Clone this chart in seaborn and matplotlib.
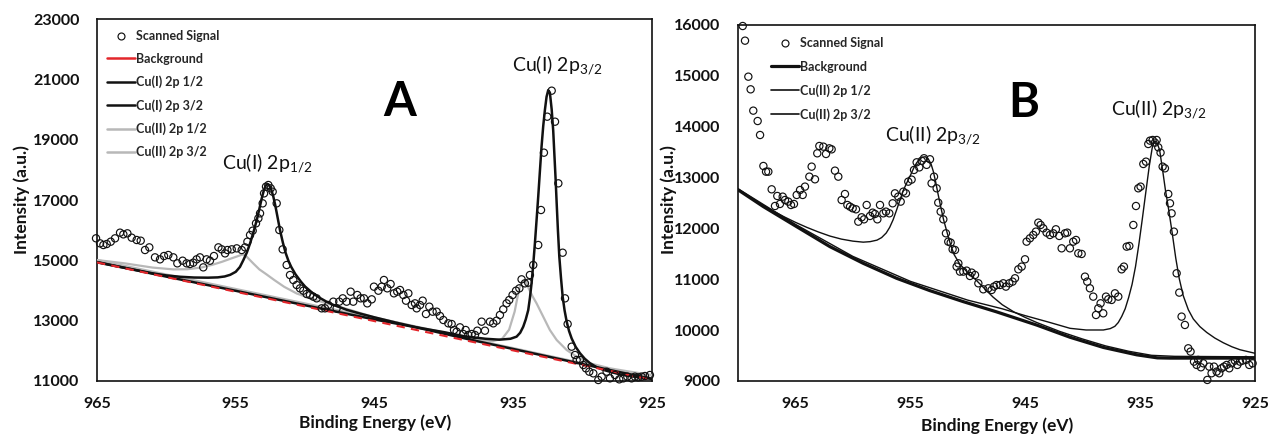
import matplotlib
matplotlib.use("Agg")
import matplotlib.pyplot as plt
from matplotlib.lines import Line2D
from matplotlib.font_manager import FontProperties
import seaborn as sns

# ---------------- Panel A data (Cu(I)) ----------------
a_sig_e = [965.07, 964.78, 964.54, 964.30, 964.01, 963.70, 963.34, 963.10, 962.81, 962.50,
           962.14, 961.85, 961.54, 961.23, 960.82, 960.46, 960.17, 959.86, 959.50, 959.21,
           958.83, 958.54, 958.30, 958.06, 957.82, 957.58, 957.34, 957.10, 956.86, 956.57,
           956.25, 956.01, 955.77, 955.60, 955.29, 954.93, 954.57, 954.33, 954.16, 953.97,
           953.78, 953.54, 953.37, 953.25, 953.06, 952.96, 952.82, 952.65, 952.48, 952.34,
           952.05, 951.86, 951.62, 951.33, 951.09, 950.85, 950.61, 950.37, 950.13, 949.89,
           949.65, 949.41, 949.17, 948.81, 948.57, 948.33, 947.97, 947.73, 947.54, 947.29,
           947.01, 946.72, 946.53, 946.24, 946.00, 945.76, 945.52, 945.20, 945.04, 944.72,
           944.48, 944.32, 944.08, 943.84, 943.60, 943.36, 943.16, 942.92, 942.73, 942.56,
           942.32, 942.08, 941.96, 941.72, 941.53, 941.29, 941.05, 940.81, 940.52, 940.28,
           940.04, 939.68, 939.44, 939.27, 939.08, 938.84, 938.60, 938.43, 938.24, 937.99,
           937.76, 937.59, 937.28, 937.04, 936.68, 936.44, 936.20, 935.96, 935.72, 935.48,
           935.29, 935.05, 934.80, 934.56, 934.40, 934.16, 933.92, 933.80, 933.56, 933.20,
           933.00, 932.79, 932.55, 932.23, 931.99, 931.75, 931.44, 931.27, 931.08, 930.79,
           930.55, 930.43, 930.19, 929.95, 929.76, 929.52, 929.23, 928.87, 928.63, 928.27,
           928.03, 927.67, 927.36, 927.07, 926.78, 926.47, 926.23, 925.99, 925.75, 925.51,
           925.15]
a_sig_i = [15730, 15563, 15508, 15541, 15618, 15729, 15917, 15861, 15895, 15751,
           15674, 15651, 15342, 15430, 15099, 15033, 15143, 15176, 15099, 14900,
           14988, 14900, 14878, 14922, 15033, 15099, 14767, 15033, 14988, 15143,
           15430, 15364, 15231, 15342, 15364, 15397, 15342, 15430, 15618, 15839,
           15983, 16226, 16392, 16558, 16889, 17220, 17442, 17497, 17386, 17276,
           16889, 16005, 15364, 14845, 14513, 14347, 14182, 14071, 13994, 13883,
           13850, 13795, 13740, 13409, 13409, 13519, 13630, 13409, 13630, 13740,
           13630, 13961, 13630, 13851, 13740, 13740, 13574, 13707, 14127, 13994,
           14127, 14348, 14072, 14215, 13906, 13961, 14017, 13851, 13663, 13906,
           13519, 13574, 13409, 13519, 13663, 13221, 13464, 13298, 13298, 13155,
           13022, 12912, 12889, 12691, 12635, 12779, 12558, 12691, 12525, 12558,
           12525, 12668, 12967, 12668, 12966, 12911, 12999, 13187, 13375, 13574,
           13685, 13850, 13994, 14071, 14370, 14237, 14259, 14513, 14845, 15508,
           16668, 18569, 19762, 20624, 19596, 17552, 15253, 13740, 12889, 12138,
           11861, 11696, 11696, 11530, 11419, 11309, 11254, 11033, 11143, 11309,
           11088, 11198, 11055, 11088, 11143, 11088, 11143, 11121, 11143, 11165,
           11198]

a_bg_e = [965.0, 945.0, 925.0]
a_bg_i = [14930, 12985, 11040]

a_cu1_p12_e = [965.0, 964.0, 963.0, 962.0, 961.0, 960.0, 959.0, 958.0, 957.0, 956.3,
               955.8, 955.4, 955.0, 954.7, 954.45, 954.2, 953.97, 953.73, 953.49, 953.3,
               953.13, 952.98, 952.85, 952.72, 952.6, 952.45, 952.29, 952.15, 952.0, 951.81,
               951.6, 951.4, 951.2, 951.0, 950.7, 950.3, 950.0, 949.5, 949.0, 948.5,
               948.0, 947.0, 946.0, 945.0, 943.5, 942.0, 940.0, 938.0, 936.0, 934.0,
               932.0, 930.0, 927.5, 925.0]
a_cu1_p12_i = [14935, 14840, 14750, 14660, 14570, 14500, 14455, 14430, 14425, 14435,
               14465, 14520, 14620, 14780, 15010, 15260, 15560, 15920, 16330, 16700,
               17050, 17310, 17470, 17530, 17500, 17360, 17110, 16820, 16460, 16000,
               15580, 15240, 14980, 14780, 14540, 14290, 14130, 13930, 13770, 13640,
               13530, 13360, 13230, 13110, 12940, 12780, 12570, 12360, 12160, 11960,
               11760, 11560, 11310, 11070]

a_cu1_p32_e = [965.0, 960.0, 955.0, 950.0, 945.0, 942.0, 940.0, 938.5, 937.0, 936.0,
               935.2, 934.76, 934.5, 934.28, 934.1, 933.92, 933.8, 933.68, 933.56, 933.44,
               933.32, 933.2, 933.08, 932.96, 932.84, 932.72, 932.6, 932.48, 932.36, 932.23,
               932.12, 932.04, 931.95, 931.87, 931.78, 931.68, 931.56, 931.44, 931.3, 931.15,
               930.98, 930.79, 930.5, 930.19, 929.85, 929.47, 929.0, 928.51, 927.9, 927.31,
               926.7, 926.11, 925.0]
a_cu1_p32_i = [14945, 14460, 13990, 13510, 13040, 12780, 12620, 12480, 12400, 12370,
               12400, 12470, 12600, 12800, 13040, 13350, 13750, 14240, 14860, 15560,
               16330, 17110, 17950, 18770, 19450, 19980, 20420, 20640, 20560, 20000,
               19300, 18550, 17720, 16890, 15990, 15120, 14420, 13800, 13340, 12970,
               12660, 12410, 12130, 11920, 11740, 11590, 11460, 11370, 11290, 11220,
               11170, 11130, 11075]

a_cu2_p12_e = [965.0, 963.0, 961.0, 959.5, 958.5, 957.5, 956.7, 956.0, 955.4, 954.9,
               954.6, 954.45, 954.25, 954.0, 953.7, 953.3, 952.8, 952.2, 951.5, 950.6,
               949.6, 948.5, 947.0, 945.0, 942.0, 938.0, 934.0, 930.0, 925.0]
a_cu2_p12_i = [15010, 14900, 14760, 14700, 14705, 14760, 14850, 14950, 15050, 15130,
               15180, 15190, 15140, 15020, 14880, 14700, 14540, 14340, 14120, 13900,
               13740, 13580, 13390, 13110, 12800, 12390, 11990, 11590, 11100]

a_cu2_p32_e = [965.0, 960.0, 955.0, 950.0, 945.0, 940.0, 937.5, 936.5, 935.8, 935.3,
               934.9, 934.6, 934.4, 934.1, 933.92, 933.6, 933.32, 932.84, 932.36, 931.87,
               931.15, 930.43, 929.47, 928.03, 926.59, 925.0]
a_cu2_p32_i = [15010, 14530, 14050, 13570, 13090, 12610, 12380, 12320, 12400, 12700,
               13300, 14000, 14280, 14330, 14100, 13800, 13574, 13132, 12690, 12359,
               12027, 11806, 11585, 11419, 11309, 11198]

# ---------------- Panel B data (Cu(II)) ----------------
b_sig_e = [969.59, 969.39, 969.10, 968.90, 968.67, 968.29, 968.08, 967.79, 967.56, 967.36,
           967.07, 966.78, 966.58, 966.35, 966.11, 965.91, 965.62, 965.39, 965.13, 964.89,
           964.60, 964.37, 964.17, 963.79, 963.59, 963.30, 963.10, 962.92, 962.57, 962.34,
           962.05, 961.85, 961.56, 961.27, 960.98, 960.69, 960.48, 960.25, 960.02, 959.73,
           959.53, 959.24, 959.03, 958.80, 958.51, 958.28, 958.08, 957.87, 957.64, 957.35,
           957.12, 956.83, 956.54, 956.34, 956.05, 955.84, 955.61, 955.38, 955.18, 954.89,
           954.68, 954.45, 954.22, 954.01, 953.81, 953.58, 953.29, 953.15, 952.94, 952.71,
           952.57, 952.36, 952.13, 951.90, 951.70, 951.49, 951.32, 951.11, 950.97, 950.82,
           950.68, 950.39, 950.10, 949.81, 949.66, 949.37, 949.08, 948.65, 948.21, 947.92,
           947.72, 947.49, 947.20, 946.91, 946.68, 946.39, 946.10, 945.89, 945.60, 945.31,
           945.02, 944.88, 944.59, 944.30, 944.07, 943.86, 943.66, 943.43, 943.14, 942.85,
           942.56, 942.33, 942.04, 941.83, 941.54, 941.34, 941.11, 940.82, 940.58, 940.38,
           940.09, 939.80, 939.60, 939.37, 939.08, 938.84, 938.64, 938.44, 938.21, 937.97,
           937.77, 937.48, 937.19, 936.90, 936.61, 936.41, 936.17, 935.94, 935.59, 935.36,
           935.16, 934.96, 934.72, 934.49, 934.29, 934.14, 933.91, 933.71, 933.56, 933.42,
           933.22, 933.04, 932.84, 932.55, 932.40, 932.26, 932.06, 931.82, 931.59, 931.39,
           931.10, 930.81, 930.61, 930.31, 930.08, 929.94, 929.71, 929.50, 929.15, 928.98,
           928.78, 928.57, 928.34, 928.11, 927.91, 927.70, 927.47, 927.24, 927.04, 926.75,
           926.54, 926.31, 926.08, 925.79, 925.50, 925.21]
b_sig_i = [15980, 15692, 14984, 14735, 14316, 14112, 13837, 13228, 13116, 13116,
           12769, 12441, 12638, 12481, 12625, 12559, 12527, 12461, 12481, 12658,
           12756, 12658, 12822, 13018, 13215, 12966, 13477, 13621, 13608, 13464,
           13575, 13555, 13136, 13018, 12559, 12677, 12461, 12428, 12396, 12376,
           12133, 12219, 12179, 12461, 12245, 12310, 12284, 12179, 12461, 12297,
           12330, 12297, 12494, 12690, 12625, 12527, 12723, 12690, 12920, 12960,
           13150, 13300, 13200, 13330, 13380, 13250, 13360, 12887, 13018, 12789,
           12507, 12330, 12179, 11904, 11740, 11721, 11590, 11576, 11249, 11314,
           11151, 11151, 11170, 11065, 11131, 11085, 10921, 10803, 10823, 10790,
           10856, 10888, 10888, 10921, 10856, 10921, 10954, 11020, 11196, 11249,
           11393, 11740, 11806, 11871, 11937, 12114, 12068, 12002, 11917, 11871,
           11904, 11983, 11852, 11609, 11904, 11917, 11609, 11740, 11773, 11511,
           11498, 11052, 10954, 10823, 10659, 10298, 10430, 10528, 10331, 10659,
           10607, 10594, 10724, 10659, 11196, 11249, 11642, 11655, 12068, 12441,
           12789, 12822, 13267, 13313, 13660, 13726, 13739, 13687, 13739, 13595,
           13490, 13215, 13182, 12677, 12494, 12297, 11937, 11118, 10738, 10266,
           10102, 9643, 9578, 9381, 9316, 9414, 9270, 9348, 9021, 9283,
           9152, 9283, 9185, 9152, 9250, 9283, 9316, 9250, 9348, 9401,
           9316, 9381, 9401, 9414, 9316, 9348]

b_bg_e = [970.0, 967.8, 964.9, 962.0, 959.1, 956.2, 953.3, 950.4, 947.5, 944.0,
          941.1, 938.2, 935.3, 933.5, 932.4, 925.0]
b_bg_i = [12760, 12430, 12035, 11642, 11314, 11020, 10777, 10561, 10360, 10100,
          9860, 9660, 9515, 9455, 9450, 9450]

b_cu2_p12_e = [970.0, 969.0, 968.0, 967.0, 966.0, 965.0, 964.0, 963.0, 962.0, 961.0,
               960.0, 959.1, 958.5, 957.9, 957.5, 957.1, 956.8, 956.5, 956.2, 955.9,
               955.6, 955.3, 955.0, 954.7, 954.45, 954.2, 953.95, 953.7, 953.45, 953.2,
               953.0, 952.8, 952.6, 952.35, 952.1, 951.8, 951.55, 951.2, 950.7, 950.0,
               949.3, 948.6, 947.8, 947.0, 946.0, 945.0, 944.0, 942.0, 940.0, 938.0,
               936.0, 934.0, 932.0, 925.0]
b_cu2_p12_i = [12770, 12620, 12480, 12350, 12230, 12120, 12020, 11930, 11850, 11790,
               11750, 11730, 11740, 11770, 11820, 11910, 12020, 12170, 12360, 12560,
               12756, 12900, 13040, 13190, 13290, 13360, 13400, 13410, 13370, 13270,
               13120, 12920, 12690, 12420, 12166, 11920, 11720, 11490, 11300, 11130,
               10990, 10830, 10650, 10500, 10360, 10250, 10150, 9975, 9825, 9690,
               9585, 9505, 9485, 9475]

b_cu2_p32_e = [970.0, 965.0, 960.0, 955.0, 950.0, 947.0, 945.0, 943.0, 941.1, 939.7,
               938.2, 937.6, 937.2, 936.9, 936.6, 936.3, 936.0, 935.7, 935.4, 935.1,
               934.8, 934.5, 934.2, 933.95, 933.75, 933.55, 933.3, 933.05, 932.8, 932.5,
               932.2, 931.9, 931.6, 931.25, 930.8, 930.37, 929.8, 929.2, 928.5, 927.76,
               927.0, 926.31, 925.0]
b_cu2_p32_i = [12780, 12080, 11450, 10960, 10590, 10420, 10285, 10160, 10036, 10003,
               10003, 10030, 10075, 10150, 10270, 10420, 10640, 10900, 11250, 11700,
               12200, 12720, 13230, 13580, 13720, 13700, 13540, 13160, 12760, 12350,
               11900, 11420, 11020, 10680, 10400, 10220, 10070, 9955, 9845, 9752,
               9672, 9615, 9545]

a_yticks = [11000, 13000, 15000, 17000, 19000, 21000, 23000]
a_xticks = [965, 955, 945, 935, 925]
b_yticks = [9000, 10000, 11000, 12000, 13000, 14000, 15000, 16000]
b_xticks = [965, 955, 945, 935, 925]

a_labels = ["Scanned Signal", "Background", "Cu(I) 2p 1/2", "Cu(I) 2p 3/2",
            "Cu(II) 2p 1/2", "Cu(II) 2p 3/2"]
b_labels = ["Scanned Signal", "Background", "Cu(II) 2p 1/2", "Cu(II) 2p 3/2"]

# ---------------- Styling ----------------
sns.set_theme(style="white")
plt.rcParams["font.family"] = ["Lato", "DejaVu Sans"]
plt.rcParams["mathtext.fontset"] = "custom"
plt.rcParams["mathtext.rm"] = "Lato"
plt.rcParams["mathtext.it"] = "Lato:italic"
plt.rcParams["mathtext.bf"] = "Lato:bold"

W, H = 1270, 438
fig = plt.figure(figsize=(W / 100, H / 100), dpi=100)
fig.patch.set_facecolor("white")

axA = fig.add_axes([97 / W, 1 - 381 / H, 555 / W, 362 / H])
axB = fig.add_axes([738 / W, 1 - 381 / H, 517 / W, 356 / H])

BLACK = "#111111"
GRAY = "#b8b8b8"
RED = "#e3262b"


def draw_line(ax, e, i, color, lw, z, ls="-"):
    sns.lineplot(x=e, y=i, ax=ax, color=color, linewidth=lw, sort=False,
                 estimator=None, legend=False, zorder=z, linestyle=ls)


def draw_points(ax, e, i):
    sns.scatterplot(x=e, y=i, ax=ax, marker="o", s=27, facecolor="none",
                    edgecolor=BLACK, linewidth=0.85, zorder=10, clip_on=False,
                    legend=False)


# Panel A
draw_points(axA, a_sig_e, a_sig_i)
draw_line(axA, a_cu2_p12_e, a_cu2_p12_i, GRAY, 1.6, 3)
draw_line(axA, a_cu2_p32_e, a_cu2_p32_i, GRAY, 1.6, 3)
draw_line(axA, a_cu1_p12_e, a_cu1_p12_i, BLACK, 1.8, 4)
draw_line(axA, a_cu1_p32_e, a_cu1_p32_i, BLACK, 1.8, 4)
draw_line(axA, a_bg_e, a_bg_i, RED, 1.5, 5, ls=(0, (4, 3)))

# Panel B
draw_points(axB, b_sig_e, b_sig_i)
draw_line(axB, b_bg_e, b_bg_i, BLACK, 2.3, 4)
draw_line(axB, b_cu2_p12_e, b_cu2_p12_i, BLACK, 1.0, 5)
draw_line(axB, b_cu2_p32_e, b_cu2_p32_i, BLACK, 1.0, 5)

tick_font = FontProperties(family="Lato", weight="bold", size=11.5)
for ax, xl, yl, xt, yt in [(axA, (965, 925), (11000, 23000), a_xticks, a_yticks),
                           (axB, (970, 925), (9000, 16000), b_xticks, b_yticks)]:
    ax.set_xlim(*xl)
    ax.set_ylim(*yl)
    ax.set_xticks(xt)
    ax.set_yticks(yt)
    ax.set_xticklabels([str(v) for v in xt])
    ax.set_yticklabels([str(v) for v in yt])
    for lab in ax.get_xticklabels() + ax.get_yticklabels():
        lab.set_fontproperties(tick_font)
        lab.set_color("#111111")
    ax.tick_params(axis="x", length=0, pad=11.5)
    ax.tick_params(axis="y", length=0, pad=12.5)
    ax.set_xlabel("")
    ax.set_ylabel("")
    ax.grid(False)
    ax.set_facecolor("white")
    for sp in ax.spines.values():
        sp.set_visible(True)
        sp.set_color("#111111")
        sp.set_linewidth(1.2)

# Legends
leg_font = FontProperties(family="Lato", weight="bold", size=9)
mk = Line2D([], [], ls="none", marker="o", mfc="none", mec=BLACK, ms=5, mew=0.85)
hA = [mk,
      Line2D([], [], color=RED, lw=1.8),
      Line2D([], [], color=BLACK, lw=1.8),
      Line2D([], [], color=BLACK, lw=1.8),
      Line2D([], [], color=GRAY, lw=1.8),
      Line2D([], [], color=GRAY, lw=1.8)]
axA.legend(hA, a_labels, loc="upper left", bbox_to_anchor=(10 / 555, 1 - 11 / 362),
           frameon=False, prop=leg_font, handlelength=2.2, handletextpad=0.1,
           labelspacing=0.86, borderpad=0, borderaxespad=0)
hB = [mk,
      Line2D([], [], color=BLACK, lw=2.3),
      Line2D([], [], color=BLACK, lw=1.2),
      Line2D([], [], color=BLACK, lw=1.2)]
axB.legend(hB, b_labels, loc="upper left", bbox_to_anchor=(33 / 517, 1 - 12 / 356),
           frameon=False, prop=leg_font, handlelength=2.2, handletextpad=0.1,
           labelspacing=0.92, borderpad=0, borderaxespad=0)

# Peak annotations
ann = dict(fontsize=14, color="#111111", ha="left", va="center", family="Lato")
axA.text(956.0, 18230, r"Cu(I) 2p$_{\mathrm{1/2}}$", **ann)
axA.text(935.1, 21480, r"Cu(I) 2p$_{\mathrm{3/2}}$", **ann)
axB.text(957.2, 13840, r"Cu(II) 2p$_{\mathrm{3/2}}$", **ann)
axB.text(937.5, 14350, r"Cu(II) 2p$_{\mathrm{3/2}}$", **ann)

axA.text(943.2, 20250, "A", fontsize=34, fontweight="bold", ha="center", va="center",
         family="Lato", color="black")
axB.text(945.1, 14470, "B", fontsize=34, fontweight="bold", ha="center", va="center",
         family="Lato", color="black")

# Axis titles
lab_kw = dict(fontsize=12.5, fontweight="bold", family="Lato", color="#111111",
              ha="center", va="center")
fig.text(22 / W, 1 - 200 / H, "Intensity (a.u.)", rotation=90, **lab_kw)
fig.text(669 / W, 1 - 200 / H, "Intensity (a.u.)", rotation=90, **lab_kw)
fig.text(375 / W, 1 - 423 / H, "Binding Energy (eV)", **lab_kw)
fig.text(997 / W, 1 - 426 / H, "Binding Energy (eV)", **lab_kw)

fig.savefig("out.png", dpi=100, facecolor="white")
